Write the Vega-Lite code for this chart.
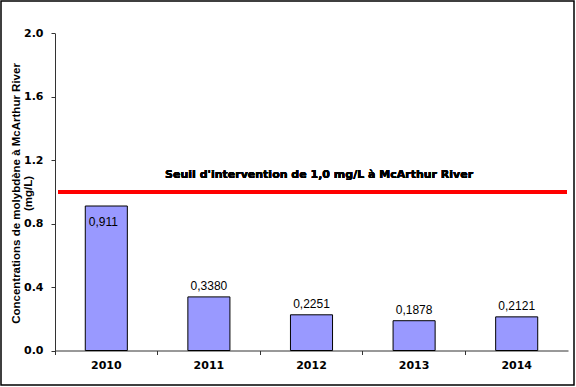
{
  "$schema": "https://vega.github.io/schema/vega-lite/v6.json",
  "width": 573,
  "height": 384,
  "padding": 1,
  "autosize": {"type": "none"},
  "background": "white",
  "config": {
    "view": {"stroke": "#000000", "strokeWidth": 1.5},
    "font": "Liberation Sans"
  },
  "data": {
    "values": [
      {"year": "2010", "value": 0.911, "label": "0,911"},
      {"year": "2011", "value": 0.338, "label": "0,3380"},
      {"year": "2012", "value": 0.2251, "label": "0,2251"},
      {"year": "2013", "value": 0.1878, "label": "0,1878"},
      {"year": "2014", "value": 0.2121, "label": "0,2121"}
    ]
  },
  "encoding": {
    "y": {
      "type": "quantitative",
      "scale": {"domain": [0, 2], "range": [349.5, 32.3], "nice": false, "zero": true},
      "axis": {
        "orient": "left",
        "offset": -54,
        "values": [0, 0.4, 0.8, 1.2, 1.6, 2.0],
        "format": ".1f",
        "grid": false,
        "domainColor": "#333333",
        "tickColor": "#333333",
        "tickSize": 4,
        "labelPadding": 8,
        "labelFont": "DejaVu Sans",
        "labelFontWeight": "bold",
        "labelFontSize": 11,
        "labelColor": "#000000",
        "title": ["Concentrations de molybdène à McArthur River", "(mg/L)"],
        "titleFont": "Liberation Sans",
        "titleFontWeight": "bold",
        "titleFontSize": 11.5,
        "titleColor": "#000000",
        "titleLineHeight": 12,
        "titleBaseline": "alphabetic",
        "titleX": -36,
        "titleY": 192
      }
    }
  },
  "layer": [
    {
      "layer": [
        {
          "mark": {"type": "bar", "fill": "#9999FF", "stroke": "#000000", "strokeWidth": 1, "width": {"band": 0.41}},
          "encoding": {
            "x": {
              "field": "year",
              "type": "nominal",
              "scale": {"range": [54, 567], "paddingInner": 0, "paddingOuter": 0},
              "axis": {
                "orient": "bottom",
                "offset": -34.5,
                "bandPosition": 0,
                "labelAngle": 0,
                "domainColor": "#333333",
                "tickColor": "#333333",
                "tickSize": 4,
                "labelPadding": 5,
                "labelFont": "DejaVu Sans",
                "labelFontWeight": "bold",
                "labelFontSize": 11,
                "labelColor": "#000000",
                "title": null
              }
            },
            "y": {"field": "value", "type": "quantitative"}
          }
        },
        {
          "transform": [{"filter": "datum.year == '2010'"}],
          "mark": {"type": "text", "font": "Liberation Sans", "fontSize": 12, "color": "#000000", "baseline": "alphabetic", "dy": 20, "dx": -3},
          "encoding": {
            "x": {"field": "year", "type": "nominal"},
            "y": {"field": "value", "type": "quantitative"},
            "text": {"field": "label"}
          }
        },
        {
          "transform": [{"filter": "datum.year != '2010'"}],
          "mark": {"type": "text", "font": "Liberation Sans", "fontSize": 12, "color": "#000000", "baseline": "alphabetic", "dy": -7},
          "encoding": {
            "x": {"field": "year", "type": "nominal"},
            "y": {"field": "value", "type": "quantitative"},
            "text": {"field": "label"}
          }
        }
      ]
    },
    {
      "mark": {"type": "rule", "color": "#FF0000", "strokeWidth": 4},
      "encoding": {
        "x": {"datum": 0, "type": "quantitative", "scale": {"domain": [0, 1], "range": [57, 566]}, "axis": null},
        "x2": {"datum": 1},
        "y": {"datum": 1}
      }
    },
    {
      "mark": {"type": "text", "font": "DejaVu Sans", "fontWeight": "bold", "fontSize": 11, "color": "#000000", "baseline": "alphabetic", "dy": -14},
      "encoding": {
        "x": {"datum": 0.513, "type": "quantitative", "scale": {"domain": [0, 1], "range": [57, 566]}, "axis": null},
        "y": {"datum": 1},
        "text": {"value": "Seuil d'intervention de 1,0 mg/L à McArthur River"}
      }
    }
  ],
  "resolve": {"scale": {"x": "independent"}, "axis": {"x": "independent"}}
}
